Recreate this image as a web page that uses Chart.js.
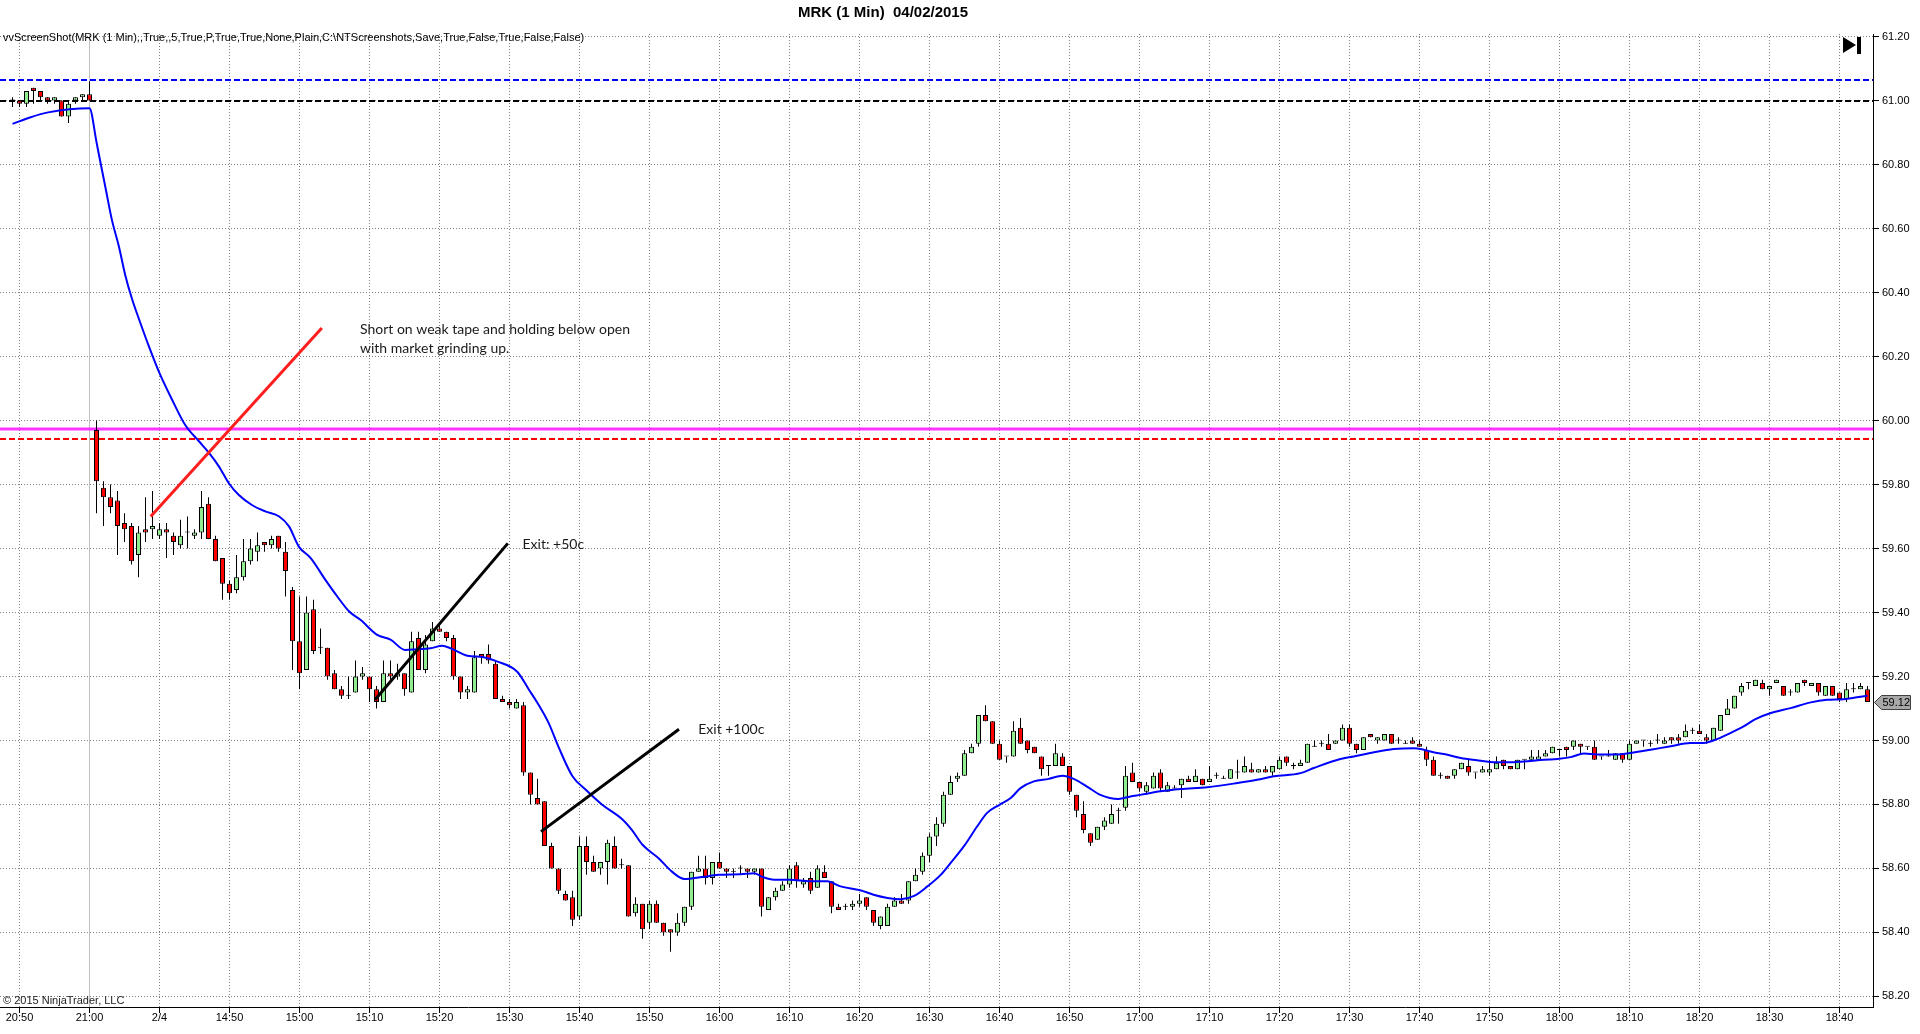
<!DOCTYPE html>
<html>
<head>
<meta charset="utf-8">
<title>MRK (1 Min) 04/02/2015</title>
<script src="https://cdn.jsdelivr.net/npm/chart.js@4.4.1/dist/chart.umd.min.js"></script>
<style>
  html, body { margin: 0; padding: 0; background: #fff; }
  canvas { display: block; }
</style>
</head>
<body>
<canvas id="mrkChart" width="1920" height="1034"></canvas>
<script>
// one bar per minute: bar 0 = 20:49 (2/3), bar 11 = 21:00, bar 12 = 14:31 (2/4), bar 265 = 18:44
const opens = [
  61.00, 61.00, 60.99, 61.04, 61.03, 61.01, 61.00, 61.00, 60.95, 61.00, 61.01, 61.02,
  59.97, 59.79, 59.76, 59.75, 59.68, 59.67, 59.58, 59.66, 59.66, 59.64,
  59.66, 59.64, 59.61, 59.65, 59.64, 59.65, 59.74, 59.63, 59.57, 59.49,
  59.47, 59.51, 59.56, 59.59, 59.62, 59.61, 59.64, 59.59, 59.47, 59.31,
  59.22, 59.41, 59.29, 59.29, 59.21, 59.16, 59.14, 59.15, 59.20, 59.20,
  59.16, 59.12, 59.21, 59.20, 59.21, 59.15, 59.32, 59.22, 59.31, 59.35,
  59.34, 59.32, 59.20, 59.15, 59.15, 59.27, 59.27, 59.24, 59.13, 59.12,
  59.10, 59.11, 58.90, 58.82, 58.81, 58.67, 58.60, 58.52, 58.51, 58.45,
  58.67, 58.62, 58.60, 58.62, 58.67, 58.61, 58.61, 58.46, 58.49, 58.43,
  58.49, 58.43, 58.41, 58.40, 58.43, 58.48, 58.59, 58.60, 58.57, 58.62,
  58.60, 58.59, 58.60, 58.60, 58.59, 58.60, 58.47, 58.51, 58.53, 58.55,
  58.61, 58.55, 58.57, 58.54, 58.59, 58.56, 58.48, 58.48, 58.48, 58.49,
  58.51, 58.47, 58.42, 58.42, 58.48, 58.50, 58.50, 58.56, 58.59, 58.64,
  58.70, 58.74, 58.83, 58.88, 58.89, 58.96, 58.99, 59.08, 59.06, 58.99,
  58.95, 58.95, 59.04, 59.00, 58.98, 58.95, 58.92, 58.92, 58.95, 58.92,
  58.83, 58.77, 58.71, 58.69, 58.73, 58.74, 58.78, 58.79, 58.90, 58.87,
  58.84, 58.85, 58.90, 58.84, 58.85, 58.86, 58.88, 58.87, 58.88, 58.87,
  58.89, 58.88, 58.88, 58.90, 58.90, 58.91, 58.90, 58.91, 58.90, 58.91,
  58.95, 58.92, 58.92, 58.93, 58.98, 58.99, 58.99, 58.99, 59.00, 59.04,
  58.99, 58.97, 59.02, 59.00, 59.00, 59.02, 59.00, 58.99, 59.00, 58.99,
  58.97, 58.94, 58.89, 58.89, 58.89, 58.91, 58.92, 58.90, 58.90, 58.90,
  58.91, 58.94, 58.92, 58.91, 58.94, 58.94, 58.94, 58.95, 58.96, 58.97,
  58.98, 58.98, 58.99, 58.98, 58.98, 58.95, 58.95, 58.94, 58.96, 58.94,
  58.99, 59.00, 58.99, 59.00, 58.99, 59.01, 59.01, 59.01, 59.03, 59.03,
  59.01, 59.00, 59.03, 59.08, 59.10, 59.15, 59.18, 59.17, 59.18, 59.16,
  59.18, 59.17, 59.15, 59.15, 59.19, 59.17, 59.18, 59.14, 59.17, 59.15,
  59.13, 59.16, 59.16, 59.16
];
const highs = [
  61.01, 61.00, 61.03, 61.04, 61.03, 61.01, 61.01, 61.00, 61.00, 61.01, 61.02, 61.06,
  60.00, 59.81, 59.80, 59.78, 59.71, 59.68, 59.67, 59.76, 59.78, 59.68,
  59.68, 59.65, 59.69, 59.70, 59.66, 59.78, 59.76, 59.64, 59.57, 59.50,
  59.58, 59.63, 59.63, 59.65, 59.62, 59.64, 59.64, 59.62, 59.48, 59.45,
  59.45, 59.44, 59.35, 59.29, 59.22, 59.17, 59.20, 59.25, 59.23, 59.20,
  59.17, 59.25, 59.25, 59.24, 59.21, 59.34, 59.34, 59.33, 59.37, 59.36,
  59.34, 59.33, 59.20, 59.17, 59.28, 59.27, 59.30, 59.25, 59.14, 59.13,
  59.13, 59.12, 58.90, 58.88, 58.81, 58.68, 58.60, 58.53, 58.53, 58.70,
  58.70, 58.64, 58.62, 58.69, 58.70, 58.63, 58.61, 58.51, 58.49, 58.50,
  58.50, 58.43, 58.41, 58.46, 58.48, 58.59, 58.64, 58.64, 58.62, 58.65,
  58.60, 58.60, 58.61, 58.60, 58.60, 58.60, 58.51, 58.54, 58.56, 58.61,
  58.62, 58.57, 58.59, 58.61, 58.61, 58.56, 58.49, 58.49, 58.50, 58.52,
  58.51, 58.47, 58.45, 58.49, 58.51, 58.52, 58.56, 58.60, 58.65, 58.71,
  58.76, 58.84, 58.89, 58.90, 58.97, 58.99, 59.08, 59.11, 59.06, 59.00,
  58.95, 59.06, 59.07, 59.00, 58.98, 58.95, 58.92, 58.99, 58.96, 58.92,
  58.83, 58.81, 58.71, 58.73, 58.76, 58.80, 58.79, 58.92, 58.93, 58.87,
  58.87, 58.90, 58.91, 58.87, 58.86, 58.88, 58.89, 58.91, 58.88, 58.92,
  58.90, 58.89, 58.91, 58.94, 58.95, 58.93, 58.91, 58.92, 58.92, 58.95,
  58.95, 58.93, 58.94, 58.99, 59.00, 59.00, 59.02, 59.00, 59.05, 59.05,
  58.99, 59.01, 59.02, 59.01, 59.02, 59.02, 59.01, 59.00, 59.01, 59.00,
  58.98, 58.95, 58.90, 58.89, 58.91, 58.93, 58.94, 58.90, 58.92, 58.94,
  58.95, 58.94, 58.92, 58.94, 58.94, 58.97, 58.97, 58.97, 58.98, 58.97,
  58.98, 59.00, 58.99, 58.98, 59.00, 58.95, 58.97, 58.96, 58.96, 59.00,
  59.00, 59.00, 59.00, 59.02, 59.01, 59.01, 59.02, 59.05, 59.04, 59.05,
  59.02, 59.04, 59.08, 59.13, 59.14, 59.18, 59.18, 59.19, 59.19, 59.17,
  59.19, 59.17, 59.16, 59.18, 59.19, 59.18, 59.18, 59.17, 59.17, 59.15,
  59.18, 59.18, 59.18, 59.17
];
const lows = [
  60.98, 60.98, 60.98, 60.99, 61.00, 60.99, 60.99, 60.95, 60.93, 60.99, 61.00, 61.00,
  59.71, 59.67, 59.71, 59.58, 59.62, 59.55, 59.51, 59.62, 59.63, 59.63,
  59.57, 59.58, 59.60, 59.60, 59.63, 59.63, 59.63, 59.56, 59.44, 59.44,
  59.46, 59.50, 59.55, 59.56, 59.59, 59.60, 59.59, 59.45, 59.22, 59.16,
  59.22, 59.27, 59.27, 59.19, 59.16, 59.13, 59.13, 59.15, 59.19, 59.12,
  59.10, 59.12, 59.19, 59.19, 59.14, 59.15, 59.22, 59.21, 59.31, 59.34,
  59.31, 59.19, 59.13, 59.13, 59.15, 59.24, 59.24, 59.13, 59.12, 59.10,
  59.10, 58.89, 58.80, 58.80, 58.67, 58.60, 58.52, 58.50, 58.42, 58.44,
  58.58, 58.59, 58.58, 58.55, 58.60, 58.60, 58.45, 58.45, 58.38, 58.41,
  58.43, 58.39, 58.34, 58.39, 58.42, 58.47, 58.59, 58.55, 58.55, 58.60,
  58.57, 58.57, 58.58, 58.57, 58.58, 58.45, 58.47, 58.50, 58.53, 58.54,
  58.54, 58.54, 58.52, 58.54, 58.57, 58.46, 58.47, 58.47, 58.47, 58.48,
  58.47, 58.42, 58.41, 58.42, 58.48, 58.49, 58.49, 58.56, 58.58, 58.62,
  58.67, 58.73, 58.83, 58.87, 58.89, 58.96, 58.98, 59.06, 58.99, 58.94,
  58.93, 58.95, 58.99, 58.96, 58.96, 58.89, 58.89, 58.92, 58.92, 58.83,
  58.76, 58.71, 58.67, 58.69, 58.72, 58.74, 58.74, 58.78, 58.87, 58.84,
  58.83, 58.85, 58.84, 58.84, 58.85, 58.82, 58.87, 58.87, 58.86, 58.87,
  58.88, 58.88, 58.88, 58.88, 58.90, 58.90, 58.90, 58.90, 58.89, 58.91,
  58.92, 58.91, 58.92, 58.93, 58.98, 58.98, 58.97, 58.99, 59.00, 58.98,
  58.96, 58.97, 59.01, 58.99, 59.00, 58.99, 58.99, 58.99, 58.99, 58.98,
  58.92, 58.89, 58.88, 58.88, 58.88, 58.91, 58.89, 58.88, 58.90, 58.89,
  58.91, 58.91, 58.91, 58.91, 58.91, 58.94, 58.94, 58.95, 58.96, 58.95,
  58.95, 58.97, 58.96, 58.97, 58.94, 58.94, 58.95, 58.94, 58.93, 58.94,
  58.99, 58.98, 58.98, 58.99, 58.99, 58.99, 58.99, 59.01, 59.02, 59.02,
  58.99, 59.00, 59.03, 59.08, 59.10, 59.14, 59.16, 59.17, 59.16, 59.14,
  59.18, 59.14, 59.14, 59.15, 59.17, 59.17, 59.14, 59.14, 59.14, 59.12,
  59.12, 59.15, 59.16, 59.12
];
const closes = [
  61.00, 60.99, 61.03, 61.03, 61.01, 61.00, 61.01, 60.95, 60.99, 61.01, 61.02, 61.00,
  59.81, 59.76, 59.73, 59.67, 59.66, 59.56, 59.65, 59.65, 59.67, 59.66,
  59.65, 59.62, 59.64, 59.65, 59.65, 59.73, 59.63, 59.56, 59.49, 59.46,
  59.51, 59.56, 59.60, 59.61, 59.61, 59.63, 59.60, 59.53, 59.31, 59.21,
  59.40, 59.28, 59.29, 59.20, 59.16, 59.14, 59.14, 59.20, 59.21, 59.16,
  59.12, 59.21, 59.20, 59.21, 59.16, 59.31, 59.22, 59.30, 59.35, 59.34,
  59.32, 59.20, 59.15, 59.16, 59.26, 59.26, 59.25, 59.13, 59.12, 59.11,
  59.12, 58.90, 58.83, 58.80, 58.67, 58.60, 58.53, 58.50, 58.44, 58.67,
  58.62, 58.59, 58.62, 58.68, 58.60, 58.61, 58.45, 58.49, 58.41, 58.49,
  58.43, 58.40, 58.40, 58.43, 58.48, 58.59, 58.60, 58.57, 58.62, 58.60,
  58.59, 58.59, 58.60, 58.59, 58.60, 58.48, 58.51, 58.53, 58.55, 58.60,
  58.56, 58.56, 58.53, 58.60, 58.57, 58.48, 58.47, 58.48, 58.49, 58.50,
  58.48, 58.43, 58.45, 58.48, 58.50, 58.49, 58.56, 58.58, 58.64, 58.70,
  58.74, 58.83, 58.87, 58.89, 58.96, 58.98, 59.08, 59.06, 58.99, 58.94,
  58.95, 59.03, 58.99, 58.97, 58.96, 58.91, 58.92, 58.96, 58.92, 58.84,
  58.78, 58.72, 58.68, 58.73, 58.75, 58.77, 58.78, 58.89, 58.87, 58.85,
  58.86, 58.89, 58.85, 58.86, 58.85, 58.88, 58.87, 58.89, 58.86, 58.88,
  58.89, 58.88, 58.91, 58.90, 58.92, 58.90, 58.91, 58.90, 58.92, 58.94,
  58.93, 58.92, 58.93, 58.99, 58.98, 58.99, 58.97, 59.00, 59.04, 58.99,
  58.97, 59.01, 59.01, 59.01, 59.02, 58.99, 59.00, 58.99, 58.99, 58.98,
  58.94, 58.89, 58.89, 58.88, 58.91, 58.93, 58.90, 58.90, 58.91, 58.91,
  58.93, 58.92, 58.91, 58.94, 58.94, 58.95, 58.95, 58.96, 58.98, 58.97,
  58.97, 59.00, 58.98, 58.98, 58.94, 58.95, 58.95, 58.96, 58.94, 58.99,
  59.00, 59.00, 58.99, 59.00, 59.00, 59.00, 59.00, 59.03, 59.03, 59.02,
  59.00, 59.04, 59.08, 59.10, 59.14, 59.17, 59.18, 59.19, 59.16, 59.17,
  59.19, 59.14, 59.15, 59.18, 59.18, 59.18, 59.15, 59.17, 59.14, 59.13,
  59.16, 59.16, 59.17, 59.12
];

// moving average line at these bar positions
const emaBars = [
  0, 2.6, 5.1, 11, 12, 12.3, 13.3, 14.2, 15.2, 16.1, 17.1, 18.1, 19.5, 21, 22.8, 24.7,
  26.6, 28.1, 29.5, 30.9, 32.3, 34.2, 36.1, 38.1, 39.5, 40.9, 42.6,
  44.7, 46.4, 48.1, 49.7, 52.1, 54, 56.1, 57.8, 59.7, 61.4, 62.6, 65, 67.3, 69.2, 72.1,
  73.8, 75, 76.6, 78, 80, 81.9, 84.2, 87.1, 88.5, 90, 92.3, 94.2, 96, 98.5, 100.9,
  104, 106, 107, 108.8, 111.1, 114, 116.4, 118.3, 121.1, 123, 125, 126.9, 128.8, 130.7, 132.6,
  134, 135.9, 137.8, 139.2, 141, 142.6, 144, 145.9, 148, 150, 151.6, 153.5, 155.4, 158, 159.7,
  161.1, 164, 166.9, 170.7, 175, 177.8, 180.2, 184, 185.9, 189.7, 191.6, 194.5, 197.3, 200.2, 201.6, 203,
  204.5, 206.9, 209.2, 211.1, 214, 216.4, 218.8, 220.7, 222.6, 224.5, 226.4, 229.2, 231.1, 234, 236.9, 239.7,
  241.6, 243, 245.4, 247.3, 249, 251.1, 254, 256.9, 259.2, 261.6, 263.5, 265
];
const emaValues = [
  60.927, 60.948, 60.963, 60.976, 60.870, 60.836, 60.726, 60.627, 60.544, 60.455, 60.378, 60.315, 60.231, 60.148, 60.065, 59.985,
  59.936, 59.898, 59.856, 59.804, 59.768, 59.736, 59.716, 59.700, 59.669, 59.606, 59.570,
  59.502, 59.450, 59.403, 59.377, 59.330, 59.315, 59.283, 59.285, 59.288, 59.296, 59.288, 59.265, 59.260, 59.247, 59.215,
  59.158, 59.117, 59.054, 58.980, 58.888, 58.846, 58.800, 58.754, 58.720, 58.674, 58.632, 58.590, 58.567, 58.573, 58.580,
  58.582, 58.585, 58.575, 58.565, 58.565, 58.560, 58.560, 58.544, 58.532, 58.518, 58.508, 58.504, 58.514, 58.544, 58.580,
  58.617, 58.669, 58.731, 58.773, 58.799, 58.820, 58.851, 58.872, 58.880, 58.890, 58.880, 58.856, 58.830, 58.817, 58.825,
  58.830, 58.841, 58.848, 58.854, 58.867, 58.877, 58.888, 58.898, 58.914, 58.942, 58.950, 58.963, 58.973, 58.976, 58.971, 58.963,
  58.958, 58.945, 58.938, 58.933, 58.932, 58.935, 58.940, 58.942, 58.948, 58.959, 58.956, 58.956, 58.961, 58.971, 58.982, 58.992,
  58.992, 59.000, 59.023, 59.044, 59.067, 59.085, 59.101, 59.119, 59.127, 59.129, 59.135, 59.140
];

const tickBars = [1, 11, 21, 31, 41, 51, 61, 71, 81, 91, 101, 111, 121, 131, 141, 151, 161, 171, 181, 191, 201, 211, 221, 231, 241, 251, 261];
const tickLabels = ['20:50', '21:00', '2/4', '14:50', '15:00', '15:10', '15:20', '15:30', '15:40', '15:50', '16:00',
  '16:10', '16:20', '16:30', '16:40', '16:50', '17:00', '17:10', '17:20', '17:30', '17:40', '17:50', '18:00',
  '18:10', '18:20', '18:30', '18:40'];
const priceTicks = [58.2, 58.4, 58.6, 58.8, 59.0, 59.2, 59.4, 59.6, 59.8, 60.0, 60.2, 60.4, 60.6, 60.8, 61.0, 61.2];

// visible range of the panel
const barMin = -1.786, barMax = 265.786;
const priceMin = 58.167, priceMax = 61.208;

// horizontal levels: blue dashed, prior close, open (magenta), red dashed
const levelPrices = [61.064, 61.00, 59.973, 59.942];
const sessionBreakBar = 11;

// hand drawn lines [bar, price]
const shortLine = [[19.74, 59.70], [44.19, 60.289]];
const exitLine1 = [[51.79, 59.127], [70.76, 59.616]];
const exitLine2 = [[75.5, 58.715], [95.21, 59.035]];

const notes = [
  { bar: 49.64, price: 60.284, text: 'Short on weak tape and holding below open' },
  { bar: 49.64, price: 60.226, text: 'with market grinding up.' },
  { bar: 72.86, price: 59.612, text: 'Exit: +50c' },
  { bar: 97.96, price: 59.035, text: 'Exit +100c' }
];

const titleText = 'MRK (1 Min)  04/02/2015';
const scriptText = 'vvScreenShot(MRK (1 Min),,True,,5,True,P,True,True,None,Plain,C:\\NTScreenshots,Save,True,False,True,False,False)';
const copyText = '\u00a9 2015 NinjaTrader, LLC';

Chart.defaults.font.family = '"Liberation Sans", Arial, sans-serif';
Chart.defaults.font.size = 11;
Chart.defaults.color = '#000';

const wickData = highs.map((h, i) => ({ x: i, y: [lows[i], h] }));
const bodyData = opens.map((o, i) => ({ x: i, y: [Math.min(o, closes[i]), Math.max(o, closes[i])] }));
const bodyColors = opens.map((o, i) => closes[i] >= o ? '#90ee90' : '#ff0000');
const toPoints = pts => pts.map(p => ({ x: p[0], y: p[1] }));

const overlay = {
  id: 'overlay',
  beforeDatasetsDraw(chart) {
    const { ctx, chartArea: a, scales: { x, y } } = chart;
    ctx.save();
    ctx.beginPath();
    ctx.rect(a.left, a.top, a.right - a.left, a.bottom - a.top);
    ctx.clip();

    const sx = x.getPixelForValue(sessionBreakBar);
    ctx.strokeStyle = '#c0c0c0';
    ctx.lineWidth = 1;
    ctx.beginPath();
    ctx.moveTo(sx, a.top);
    ctx.lineTo(sx, a.bottom);
    ctx.stroke();

    const styles = [
      { color: '#0000ff', width: 2, dash: [6, 3] },
      { color: '#000000', width: 2, dash: [6, 3] },
      { color: '#ff33ff', width: 3, dash: [] },
      { color: '#ff0000', width: 2, dash: [6, 3] }
    ];
    levelPrices.forEach((p, k) => {
      const py = Math.round(y.getPixelForValue(p));
      ctx.strokeStyle = styles[k].color;
      ctx.lineWidth = styles[k].width;
      ctx.setLineDash(styles[k].dash);
      ctx.beginPath();
      ctx.moveTo(a.left, py);
      ctx.lineTo(a.right, py);
      ctx.stroke();
    });
    ctx.restore();
  },
  afterDraw(chart) {
    const { ctx, chartArea: a, scales: { x, y } } = chart;
    ctx.save();
    ctx.fillStyle = '#000';
    ctx.textBaseline = 'alphabetic';

    ctx.font = 'bold 15px "Liberation Sans", Arial, sans-serif';
    ctx.textAlign = 'center';
    ctx.fillText(titleText, 883, 17);

    ctx.font = '11px "Liberation Sans", Arial, sans-serif';
    ctx.textAlign = 'left';
    ctx.fillText(scriptText, 3, 41);
    ctx.fillStyle = '#222';
    ctx.fillText(copyText, 3, 1004);

    ctx.fillStyle = '#1a1a1a';
    ctx.font = '14px Lato, "Open Sans", sans-serif';
    ctx.textBaseline = 'middle';
    notes.forEach(n => ctx.fillText(n.text, x.getPixelForValue(n.bar), y.getPixelForValue(n.price)));

    // go-to-end button
    ctx.fillStyle = '#000';
    ctx.beginPath();
    ctx.moveTo(1843, 37);
    ctx.lineTo(1856, 45);
    ctx.lineTo(1843, 53);
    ctx.closePath();
    ctx.fill();
    ctx.fillRect(1857, 37, 4, 17);

    // last price marker
    const last = closes[closes.length - 1];
    const my = Math.round(y.getPixelForValue(last)) + 0.5;
    const mx = a.right + 1.5;
    ctx.beginPath();
    ctx.moveTo(mx, my);
    ctx.lineTo(mx + 7, my - 7);
    ctx.lineTo(mx + 36, my - 7);
    ctx.lineTo(mx + 36, my + 7);
    ctx.lineTo(mx + 7, my + 7);
    ctx.closePath();
    ctx.fillStyle = '#a8a8a8';
    ctx.fill();
    ctx.strokeStyle = '#404040';
    ctx.lineWidth = 1;
    ctx.stroke();
    ctx.fillStyle = '#000';
    ctx.font = '11px "Liberation Sans", Arial, sans-serif';
    ctx.textAlign = 'left';
    ctx.fillText(last.toFixed(2), mx + 8, my);
    ctx.restore();
  }
};

new Chart(document.getElementById('mrkChart'), {
  type: 'bar',
  data: {
    datasets: [
      { type: 'line', data: toPoints(shortLine), borderColor: '#ff1e1e', borderWidth: 3, pointRadius: 0, order: 0 },
      { type: 'line', data: toPoints(exitLine1), borderColor: '#000', borderWidth: 3, pointRadius: 0, order: 0 },
      { type: 'line', data: toPoints(exitLine2), borderColor: '#000', borderWidth: 3, pointRadius: 0, order: 0 },
      {
        type: 'line',
        data: emaBars.map((b, k) => ({ x: b, y: emaValues[k] })),
        borderColor: '#0000ff',
        borderWidth: 2,
        pointRadius: 0,
        cubicInterpolationMode: 'monotone',
        order: 1
      },
      {
        data: bodyData,
        backgroundColor: bodyColors,
        borderColor: '#000',
        borderWidth: 1,
        borderSkipped: false,
        barThickness: 5,
        minBarLength: 1,
        inflateAmount: 0,
        grouped: false,
        order: 2
      },
      {
        data: wickData,
        backgroundColor: '#000',
        borderWidth: 0,
        barThickness: 1,
        minBarLength: 1,
        inflateAmount: 0,
        grouped: false,
        order: 3
      }
    ]
  },
  options: {
    responsive: false,
    devicePixelRatio: 1,
    animation: false,
    events: [],
    layout: { padding: { top: 34, left: 0, right: 0, bottom: 0 } },
    plugins: {
      legend: { display: false },
      tooltip: { enabled: false },
      title: { display: false }
    },
    scales: {
      x: {
        type: 'linear',
        position: 'bottom',
        min: barMin,
        max: barMax,
        bounds: 'data',
        offset: false,
        afterBuildTicks: s => { s.ticks = tickBars.map(v => ({ value: v })); },
        afterFit: s => { s.height = 27; },
        ticks: {
          autoSkip: false,
          maxRotation: 0,
          padding: -2,
          color: '#000',
          callback: (v, idx) => tickLabels[idx]
        },
        grid: { offset: false, color: '#808080', tickColor: '#000', tickLength: 6 },
        border: { display: true, color: '#000', dash: [1, 2] }
      },
      y: {
        type: 'linear',
        position: 'right',
        min: priceMin,
        max: priceMax,
        bounds: 'data',
        beginAtZero: false,
        afterBuildTicks: s => { s.ticks = priceTicks.map(v => ({ value: v })); },
        afterFit: s => { s.width = 47; },
        ticks: { padding: 3, color: '#000', callback: v => v.toFixed(2) },
        grid: { color: '#808080', tickColor: '#000', tickLength: 6 },
        border: { display: true, color: '#000', dash: [1, 2] }
      }
    }
  },
  plugins: [overlay]
});
</script>
</body>
</html>
